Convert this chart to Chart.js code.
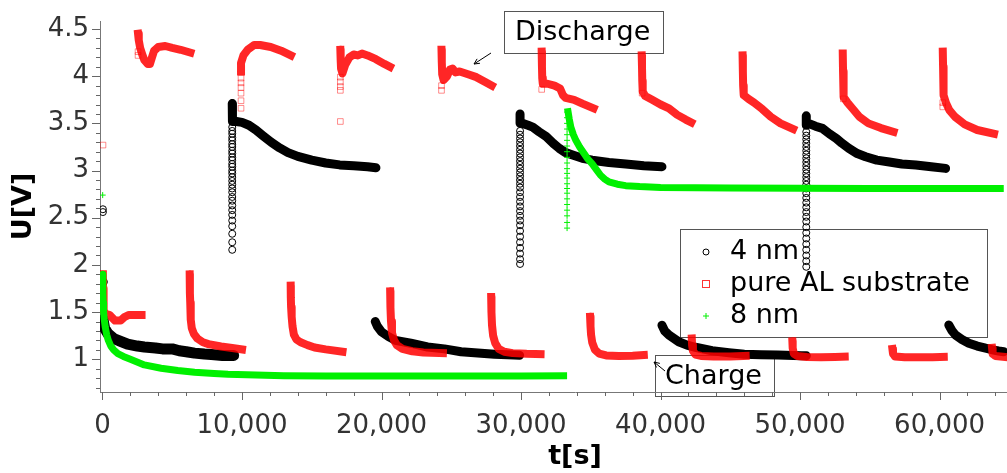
<!DOCTYPE html>
<html>
<head>
<meta charset="utf-8">
<style>
  html, body { margin: 0; padding: 0; background: #fff; overflow: hidden; }
  #wrap { width: 1055px; height: 473px; }
</style>
</head>
<body>
<div id="wrap">
    <canvas id="myChart"></canvas>
</div>

<script src="https://cdn.jsdelivr.net/npm/chart.js"></script>

<script>
    // --- values: [t in s, U in V] ---
    const seriesNames = ['4 nm', 'pure AL substrate', '8 nm'];

    // 4 nm (black circles)
    const nm4A = [[40,1.42],[150,1.33],[400,1.27],[800,1.22],[1300,1.19],[1800,1.16],[2500,1.14],[3000,1.13],[3800,1.12],[4300,1.11],[5000,1.11],[5500,1.09],[6000,1.08],[6600,1.065],[7300,1.055],[7800,1.05],[8600,1.04],[9400,1.04]];
    const nm4B = [[9300,3.71],[9300,3.60],[9330,3.52],[9600,3.52],[10000,3.51],[10500,3.48],[11000,3.43],[11500,3.37],[12100,3.30],[12700,3.24],[13300,3.19],[14000,3.15],[15000,3.11],[16000,3.08],[17000,3.06],[18000,3.05],[19000,3.04],[19600,3.03]];
    const nm4C = [[19550,1.40],[19700,1.35],[20000,1.29],[20500,1.24],[21000,1.20],[22100,1.17],[23300,1.13],[24500,1.11],[25700,1.08],[26900,1.067],[28100,1.053],[29500,1.045],[29900,1.043]];
    const nm4D = [[29930,3.60],[29930,3.50],[30100,3.50],[30500,3.48],[30840,3.46],[31300,3.41],[31800,3.36],[32300,3.29],[32740,3.235],[33200,3.19],[33700,3.165],[34400,3.13],[35100,3.11],[36300,3.085],[37500,3.07],[38800,3.05],[40100,3.04]];
    const nm4E = [[40100,1.36],[40300,1.30],[40600,1.257],[41300,1.186],[41900,1.15],[42500,1.127],[43700,1.09],[44900,1.07],[46000,1.053],[47200,1.048],[48400,1.045],[50100,1.038],[50450,1.037]];
    const nm4F = [[50445,3.58],[50445,3.48],[50600,3.50],[51100,3.47],[51600,3.447],[52100,3.39],[52600,3.34],[53000,3.29],[53500,3.235],[54100,3.18],[54700,3.146],[55500,3.11],[56400,3.09],[57300,3.07],[58300,3.058],[59400,3.04],[60430,3.023]];
    const nm4G = [[60660,1.363],[60900,1.30],[61140,1.257],[61600,1.21],[62100,1.17],[62700,1.14],[63300,1.117],[63800,1.10],[64230,1.088],[64600,1.08]];
    const nm4Loose = [[30,2.59],[30,2.56],[100,1.82]];
    const nm4SpikeT = [9300, 29930, 50445];
    const nm4SpikeU = [
        [2.16,2.24,2.33,2.41,2.47,2.53,2.58,2.63,2.68,2.72,2.77,2.81,2.85,2.89,2.93,2.97,3.00,3.04,3.07,3.11,3.14,3.18,3.21,3.25,3.28,3.32,3.35,3.39,3.42,3.46],
        [2.01,2.06,2.12,2.18,2.24,2.30,2.36,2.42,2.47,2.52,2.57,2.62,2.67,2.72,2.77,2.82,2.86,2.90,2.94,2.98,3.02,3.06,3.10,3.14,3.18,3.22,3.26,3.30,3.34,3.38,3.42],
        [1.98,2.04,2.10,2.16,2.22,2.28,2.34,2.40,2.46,2.51,2.56,2.61,2.66,2.71,2.76,2.81,2.85,2.89,2.93,2.97,3.01,3.05,3.09,3.13,3.17,3.21,3.25,3.29,3.33,3.37,3.41]
    ];

    // pure AL substrate (red squares)
    const alA = [[30,1.90],[40,1.75],[60,1.62],[100,1.52],[200,1.48],[500,1.47],[900,1.41],[1300,1.41],[1600,1.45],[1900,1.47],[2300,1.47],[2800,1.47]];
    const alB = [[2550,4.45],[2600,4.38],[2700,4.30],[2850,4.23],[3000,4.17],[3250,4.13],[3400,4.13],[3550,4.20],[3700,4.27],[4000,4.31],[4500,4.32],[5000,4.30],[5600,4.28],[6300,4.25]];
    const alC = [[6250,1.90],[6260,1.80],[6270,1.70],[6290,1.60],[6310,1.50],[6340,1.42],[6400,1.33],[6550,1.27],[6800,1.22],[7200,1.18],[7600,1.16],[8500,1.135],[9300,1.12],[10000,1.105]];
    const alD = [[9930,4.05],[9930,4.14],[10100,4.22],[10400,4.28],[10870,4.33],[11300,4.33],[12060,4.31],[12800,4.27],[13500,4.22]];
    const alE = [[13490,1.78],[13500,1.65],[13520,1.55],[13560,1.45],[13620,1.35],[13720,1.26],[13900,1.21],[14200,1.18],[14700,1.15],[15200,1.125],[16000,1.105],[17200,1.08]];
    const alF = [[17050,4.28],[17070,4.18],[17100,4.08],[17200,4.03],[17400,4.12],[17700,4.20],[18000,4.23],[18300,4.22],[18600,4.24],[19000,4.22],[19600,4.18],[20200,4.13],[20600,4.10]];
    const alG = [[20620,1.72],[20640,1.55],[20680,1.40],[20750,1.28],[20900,1.20],[21100,1.15],[21500,1.11],[22200,1.085],[23000,1.072],[24400,1.065]];
    const alH = [[24300,4.28],[24320,4.15],[24350,4.02],[24450,3.96],[24700,4.00],[24900,4.07],[25100,4.08],[25300,4.04],[25600,4.05],[26200,4.02],[26800,3.99],[27400,3.94],[27900,3.90]];
    const alI = [[27860,1.66],[27880,1.50],[27920,1.36],[28000,1.25],[28150,1.17],[28400,1.11],[28800,1.08],[29400,1.065],[30400,1.058],[31400,1.055]];
    const alJ = [[31480,4.26],[31500,4.10],[31520,3.98],[31560,3.92],[31900,3.92],[32400,3.90],[32800,3.87],[33000,3.80],[33200,3.77],[33800,3.75],[34400,3.71],[35200,3.66]];
    const alK = [[34950,1.45],[34980,1.35],[35020,1.26],[35100,1.18],[35300,1.10],[35600,1.06],[36100,1.04],[37000,1.035],[38000,1.038],[38800,1.045]];
    const alL = [[38650,4.22],[38670,4.10],[38690,3.95],[38720,3.84],[38900,3.79],[39400,3.75],[40000,3.70],[40600,3.66],[41200,3.59],[41800,3.54],[42200,3.51]];
    const alM = [[42240,1.22],[42260,1.15],[42320,1.09],[42500,1.05],[42900,1.035],[43800,1.03],[45000,1.03],[46100,1.035]];
    const alN = [[45880,4.22],[45900,4.05],[45920,3.90],[45960,3.80],[46300,3.76],[46700,3.72],[47300,3.65],[47900,3.57],[48600,3.50],[49500,3.44]];
    const alO = [[49450,1.19],[49470,1.12],[49550,1.06],[49800,1.035],[50500,1.025],[51500,1.022],[52500,1.025],[53200,1.028]];
    const alP = [[53060,4.24],[53080,4.05],[53100,3.90],[53140,3.78],[53400,3.72],[53800,3.65],[54250,3.57],[54900,3.50],[55800,3.45],[56700,3.41]];
    const alQ = [[56620,1.11],[56660,1.06],[56800,1.03],[57500,1.022],[58500,1.02],[59500,1.022],[60300,1.025]];
    const alR = [[60230,4.26],[60250,4.10],[60270,3.95],[60300,3.80],[60450,3.72],[60700,3.64],[61100,3.57],[61800,3.49],[62700,3.43],[63900,3.39]];
    const alS = [[63760,1.12],[63800,1.06],[64000,1.035],[64600,1.025]];
    const alLoose = [[36,3.27],[2550,4.22],[2550,4.26],[9930,3.66],[9930,3.74],[9930,3.82],[9930,3.88],[9930,3.93],[9930,3.98],[17050,3.52],[17050,3.85],[17050,3.89],[17050,3.94],[17050,3.99],[24300,3.85],[24300,3.90],[31480,3.86],[38680,3.82],[53100,3.76],[60230,3.675],[60230,3.72]];

    // 8 nm (green crosses)
    const nm8A = [[10,1.90],[20,1.80],[30,1.70],[50,1.60],[80,1.50],[130,1.42],[200,1.34],[300,1.26],[420,1.20],[600,1.14],[800,1.10],[1100,1.06],[1500,1.03],[2000,1.00],[3000,0.94],[4200,0.905],[5400,0.88],[6600,0.862],[8000,0.848],[9000,0.84],[11000,0.832],[13000,0.826],[16000,0.823],[20000,0.822],[25000,0.822],[30000,0.823],[33300,0.824]];
    const nm8B = [[33330,3.66],[33450,3.55],[33570,3.46],[33750,3.38],[33930,3.32],[34200,3.25],[34520,3.18],[34800,3.12],[35100,3.07],[35400,3.01],[35700,2.95],[36000,2.91],[36300,2.88],[36900,2.855],[37500,2.84],[38500,2.83],[40000,2.82],[45000,2.815],[50000,2.812],[55000,2.81],[60000,2.81],[64600,2.81]];
    const nm8Loose = [[14,2.74]];
    const nm8SpikeT = 33300;
    const nm8SpikeU = [2.39,2.45,2.52,2.58,2.64,2.70,2.76,2.81,2.86,2.92,2.97,3.02,3.08,3.14,3.20,3.26,3.32,3.38,3.44,3.50,3.56,3.62];

    const xTickLabels = [0, 10000, 20000, 30000, 40000, 50000, 60000];
    const yTickLabels = [1, 1.5, 2, 2.5, 3, 3.5, 4, 4.5];

    // --- build datasets ---
    const BLACK = '#000000';
    const RED = 'rgba(255,0,0,0.85)';
    const GREEN = '#00f000';

    function pts(arr) { return arr.map(p => ({x: p[0], y: p[1]})); }

    function curve(arr, color, width, cap, order) {
        return { data: pts(arr), showLine: true, borderColor: color, borderWidth: width,
                 borderCapStyle: cap, borderJoinStyle: 'round', pointRadius: 0, order: order };
    }
    function dots(arr, style, color, radius, order) {
        return { data: pts(arr), showLine: false, pointStyle: style, pointRadius: radius,
                 pointBorderColor: color, pointBackgroundColor: 'rgba(0,0,0,0)', pointBorderWidth: 1, order: order };
    }

    const datasets = [];
    datasets.push(curve(nm4A, BLACK, 11, 'round', 3));
    [nm4B, nm4C, nm4D, nm4E, nm4F, nm4G].forEach(s => datasets.push(curve(s, BLACK, 9, 'round', 3)));
    const nm4Spikes = [];
    nm4SpikeT.forEach((t, i) => nm4SpikeU[i].forEach(u => nm4Spikes.push([t, u])));
    datasets.push(dots(nm4Spikes.concat(nm4Loose), 'circle', BLACK, 3.5, 3));

    [alA, alB, alC, alD, alE, alF, alG, alH, alI, alJ, alK, alL, alM, alN, alO, alP, alQ, alR, alS]
        .forEach(s => datasets.push(curve(s, RED, 8, 'square', 2)));
    datasets.push(dots(alLoose, 'rect', 'rgba(255,0,0,0.45)', 4, 2));

    [nm8A, nm8B].forEach(s => datasets.push(curve(s, GREEN, 7, 'butt', 1)));
    datasets.push(dots(nm8SpikeU.map(u => [nm8SpikeT, u]).concat(nm8Loose), 'cross', GREEN, 3, 1));

    // --- legend, annotations and tick marks ---
    function arrow(c, x1, y1, x2, y2) {
        const a = Math.atan2(y2 - y1, x2 - x1);
        c.beginPath();
        c.moveTo(x1, y1); c.lineTo(x2, y2);
        c.moveTo(x2 - 6 * Math.cos(a - 0.45), y2 - 6 * Math.sin(a - 0.45));
        c.lineTo(x2, y2);
        c.lineTo(x2 - 6 * Math.cos(a + 0.45), y2 - 6 * Math.sin(a + 0.45));
        c.stroke();
    }

    const decor = {
        id: 'decor',
        beforeDraw(chart) {
            const c = chart.ctx;
            c.save();
            c.fillStyle = '#fff';
            c.fillRect(0, 0, chart.width, chart.height);
            c.strokeStyle = '#555';
            c.lineWidth = 1;
            c.font = '27px "DejaVu Sans"';
            c.textBaseline = 'middle';
            c.fillStyle = '#000';

            // legend box
            c.strokeRect(680.5, 229.5, 307, 108);
            const rows = [252, 284, 316];
            seriesNames.forEach((n, i) => c.fillText(n, 730, rows[i]));
            c.beginPath(); c.arc(706, rows[0], 3, 0, Math.PI * 2);
            c.strokeStyle = BLACK; c.stroke();
            c.strokeStyle = 'rgba(255,0,0,0.8)';
            c.strokeRect(702.5, rows[1] - 3.5, 7, 7);
            c.strokeStyle = GREEN;
            c.beginPath(); c.moveTo(703, rows[2]); c.lineTo(709, rows[2]);
            c.moveTo(706, rows[2] - 3); c.lineTo(706, rows[2] + 3); c.stroke();

            // annotation boxes
            c.strokeStyle = '#555';
            c.strokeRect(504.5, 11.5, 159, 42);
            c.fillText('Discharge', 515, 33);
            c.strokeRect(655.5, 355.5, 119, 41);
            c.fillText('Charge', 665, 377);
            c.strokeStyle = '#000';
            arrow(c, 491, 53, 474, 64);
            arrow(c, 665, 371, 654, 362);
            c.restore();
        },
        afterDraw(chart) {
            const c = chart.ctx;
            const xs = chart.scales.x, ys = chart.scales.y;
            const area = chart.chartArea;
            c.save();
            c.strokeStyle = '#666';
            c.lineWidth = 1;
            c.beginPath();
            for (let t = 0; t <= xs.max; t += 2000) {
                const px = Math.round(xs.getPixelForValue(t)) + 0.5;
                const len = t % 10000 === 0 ? 8 : 4;
                c.moveTo(px, area.bottom); c.lineTo(px, area.bottom + len);
            }
            for (let k = 7; k <= 45; k++) {
                const py = Math.round(ys.getPixelForValue(k / 10)) + 0.5;
                const len = k % 5 === 0 ? 8 : 4;
                c.moveTo(area.left, py); c.lineTo(area.left - len, py);
            }
            c.stroke();
            c.restore();
        }
    };

    const tickFont = { family: 'DejaVu Sans', size: 26 };
    const titleFont = { family: 'DejaVu Sans', size: 27, weight: 'bold' };

    new Chart(document.getElementById('myChart'), {
        type: 'scatter',
        data: { datasets: datasets },
        options: {
            responsive: true,
            maintainAspectRatio: false,
            animation: false,
            layout: { padding: { top: 21, left: 0, right: 0, bottom: 0 } },
            plugins: { legend: { display: false }, tooltip: { enabled: false } },
            scales: {
                x: {
                    type: 'linear', min: -178, max: 67914,
                    afterBuildTicks: s => { s.ticks = xTickLabels.map(v => ({ value: v })); },
                    afterFit: s => { s.height = 81; },
                    ticks: { font: tickFont, color: '#333', padding: 11, maxRotation: 0, autoSkip: false, includeBounds: false },
                    grid: { display: false },
                    border: { display: true, color: '#777' },
                    title: { display: true, text: 't[s]', font: titleFont, color: '#000', padding: { top: 0, bottom: 0 } }
                },
                y: {
                    type: 'linear', min: 0.653, max: 4.585,
                    afterBuildTicks: s => { s.ticks = yTickLabels.map(v => ({ value: v })); },
                    afterFit: s => { s.width = 100; },
                    ticks: { font: tickFont, color: '#333', padding: 3, includeBounds: false,
                             callback: v => String(v) },
                    grid: { display: false },
                    border: { display: true, color: '#777' },
                    title: { display: true, text: 'U[V]', font: titleFont, color: '#000', padding: { top: 8, bottom: 0 } }
                }
            }
        },
        plugins: [decor]
    });
</script>
</body>
</html>
